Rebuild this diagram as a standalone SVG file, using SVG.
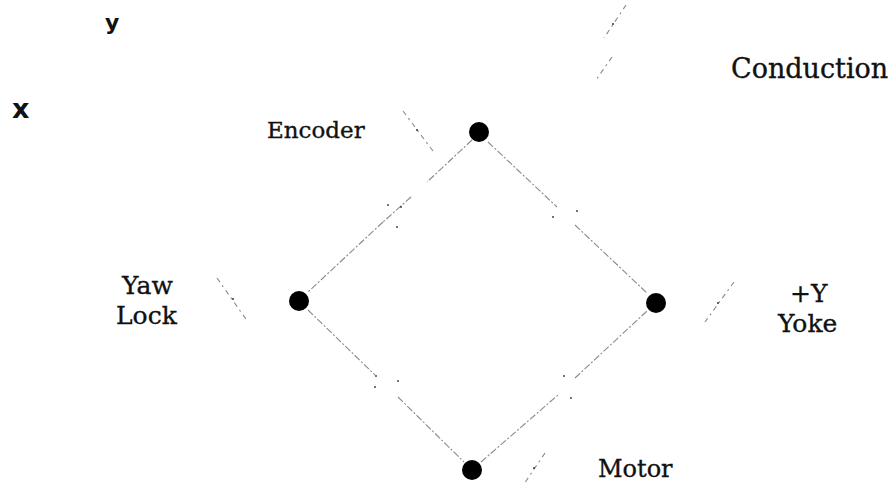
<svg xmlns="http://www.w3.org/2000/svg" width="894" height="484" viewBox="0 0 894 484">
<style>
.lbl{font-family:"DejaVu Serif","Liberation Serif",serif;fill:#111;stroke:#111;stroke-width:0.35}
.ax{font-family:"DejaVu Sans","Liberation Sans",sans-serif;fill:#111;font-weight:bold}
.edge{stroke:#8a8a8a;stroke-width:1.1;fill:none;stroke-dasharray:7 2 2 2}
.lead{stroke:#8a8a8a;stroke-width:1.1;fill:none;stroke-dasharray:5 4 2 4}
.mark{fill:#333}
.node{fill:#000}
</style>
<rect width="894" height="484" fill="#fff"/>
<g id="axes">
<text class="ax" x="105" y="30" font-size="22">y</text>
<text class="ax" x="12" y="118" font-size="27">x</text>
</g>
<g id="connectors">
<line class="edge" x1="472" y1="140" x2="427" y2="182"/>
<line class="edge" x1="411" y1="197" x2="383" y2="222"/>
<line class="edge" x1="383" y1="222" x2="308" y2="292"/>
<circle class="mark" cx="388" cy="205" r="0.9"/>
<circle class="mark" cx="401" cy="207" r="0.9"/>
<circle class="mark" cx="397" cy="227" r="0.9"/>
<line class="edge" x1="488" y1="142" x2="557" y2="207"/>
<line class="edge" x1="575" y1="225" x2="647" y2="293"/>
<circle class="mark" cx="553" cy="217" r="0.9"/>
<circle class="mark" cx="577" cy="211" r="0.9"/>
<line class="edge" x1="308" y1="310" x2="375" y2="375"/>
<line class="edge" x1="398" y1="397" x2="464" y2="462"/>
<circle class="mark" cx="376" cy="376" r="0.9"/>
<circle class="mark" cx="375" cy="387" r="0.9"/>
<circle class="mark" cx="398" cy="381" r="0.9"/>
<line class="edge" x1="481" y1="462" x2="558" y2="395"/>
<line class="edge" x1="575" y1="378" x2="647" y2="311"/>
<circle class="mark" cx="564" cy="376" r="0.9"/>
<circle class="mark" cx="571" cy="398" r="0.9"/>
<line class="lead" x1="626" y1="5" x2="604" y2="38"/>
<line class="lead" x1="612" y1="57" x2="596" y2="80"/>
<circle class="mark" cx="613" cy="24" r="1"/>
<line class="lead" x1="403" y1="111" x2="433" y2="151"/>
<circle class="mark" cx="417" cy="130" r="1"/>
<line class="lead" x1="217" y1="278" x2="248" y2="322"/>
<circle class="mark" cx="233" cy="299" r="1"/>
<line class="lead" x1="734" y1="282" x2="705" y2="322"/>
<circle class="mark" cx="718" cy="303" r="1"/>
<line class="lead" x1="545" y1="453" x2="524" y2="484"/>
<circle class="mark" cx="534" cy="468" r="1"/>
</g>
<g id="encoder">
<circle class="node" cx="479" cy="132" r="10"/>
<text class="lbl" x="267" y="138" font-size="23">Encoder</text>
</g>
<g id="yaw-lock">
<circle class="node" cx="299" cy="301" r="10"/>
<text class="lbl" x="122" y="294" font-size="25">Yaw</text>
<text class="lbl" x="116" y="324" font-size="25">Lock</text>
</g>
<g id="y-yoke">
<circle class="node" cx="656" cy="303" r="10"/>
<text class="lbl" x="790" y="302" font-size="25">+Y</text>
<text class="lbl" x="778" y="332" font-size="25">Yoke</text>
</g>
<g id="motor">
<circle class="node" cx="472" cy="470" r="10"/>
<text class="lbl" x="598" y="477" font-size="24">Motor</text>
</g>
<g id="conduction">
<text class="lbl" x="731" y="78" font-size="27">Conduction</text>
</g>
</svg>
